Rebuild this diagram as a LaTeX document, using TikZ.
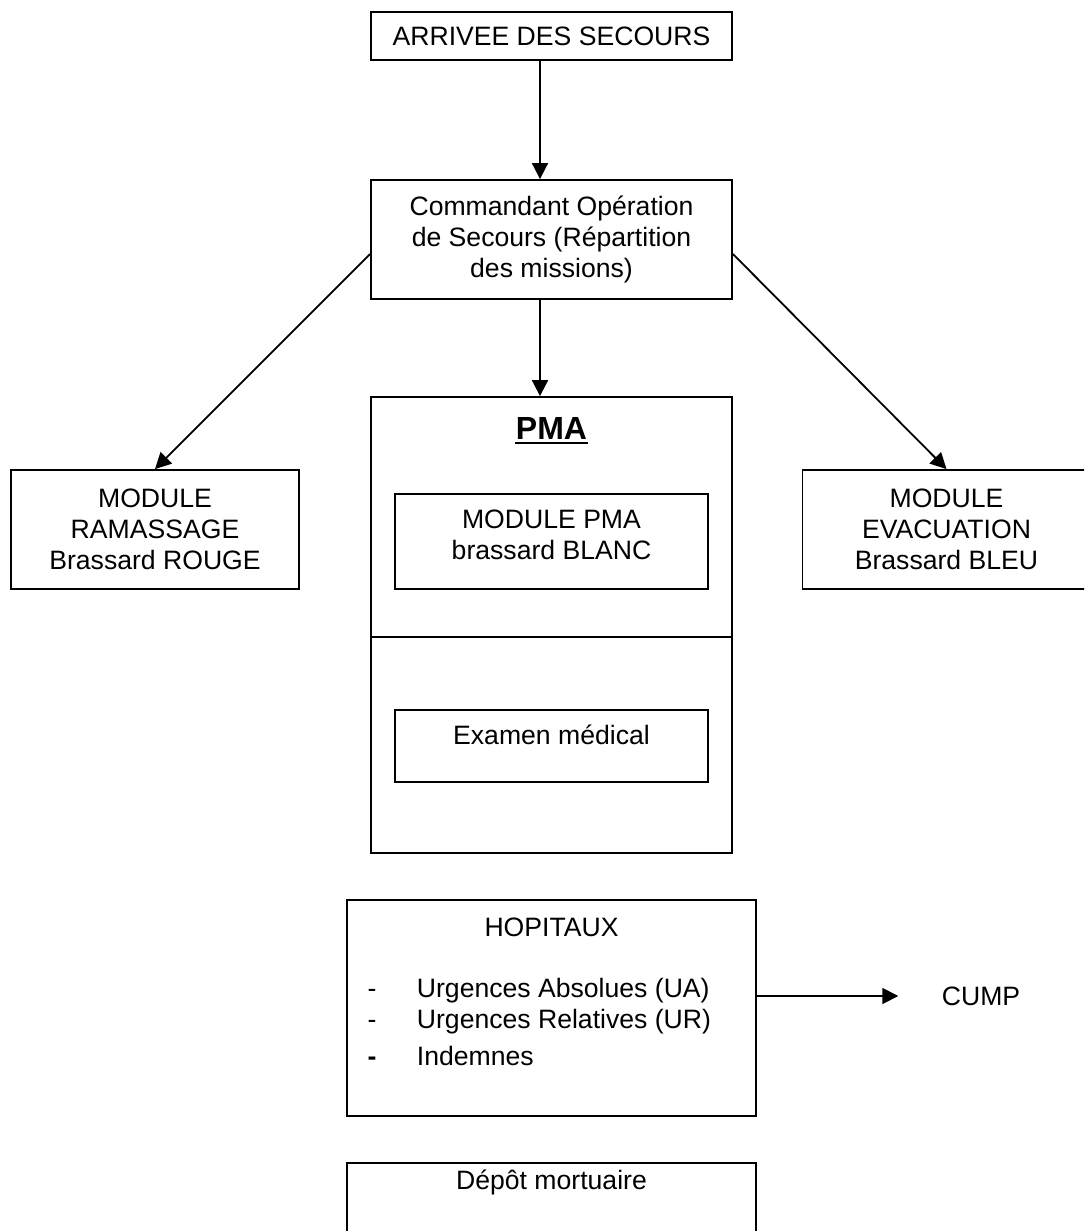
\documentclass[tikz,border=0pt]{standalone}
\usepackage{fontspec}
\setmainfont{Liberation Sans}
\usetikzlibrary{arrows.meta}

\begin{document}
\begin{tikzpicture}[x=0.5pt,y=-0.5pt,line width=0.9pt,
  every node/.style={font=\fontsize{13.3}{15.5}\selectfont},
  box/.style={draw, rectangle, inner sep=0pt, align=center},
  arr/.style={-{Triangle[length=8pt,width=8pt]}}]
\clip (0,0) rectangle (1084,1231);

% boites
\node[box, minimum width=180.5pt, minimum height=24pt] (arrivee) at (551.5,36) {ARRIVEE DES SECOURS};
\node[box, minimum width=180.5pt, minimum height=59.5pt] (cos) at (551.5,239.5) {Commandant Opération\\de Secours (Répartition\\des missions)};
\node[box, minimum width=144pt, minimum height=59.5pt] (ramassage) at (155,529.5) {MODULE\\RAMASSAGE\\Brassard ROUGE};
\node[box, minimum width=144pt, minimum height=59.5pt] (evacuation) at (946.5,529.5) {MODULE\\EVACUATION\\Brassard BLEU};
\node[box, minimum width=180.5pt, minimum height=228pt] (pma) at (551.5,625) {};
\node[box, minimum width=156.5pt, minimum height=47.5pt] (blanc) at (551.5,541.5) {};
\node[box, minimum width=156.5pt, minimum height=36pt] (examen) at (551.5,746) {};
\node[box, minimum width=204.5pt, minimum height=108pt] (hopitaux) at (551.5,1008) {};
\node[box, minimum width=204.5pt, minimum height=108pt] (depot) at (551.5,1271) {};

% PMA
\coordinate (split) at (551.5,637);
\draw (pma.west |- split) -- (pma.east |- split);
\node[inner sep=0pt, font=\bfseries\fontsize{16}{18}\selectfont] (pmatitle) at (551.5,428) {PMA};
\draw[line width=1.1pt] ([yshift=-2pt]pmatitle.base west) -- ([yshift=-2pt]pmatitle.base east);
\node[align=center] (blanctxt) at (551.5,535) {MODULE PMA\\brassard BLANC};
\node (examentxt) at (551.5,735) {Examen médical};

% hopitaux
\node (hoptitle) at (551.5,927) {HOPITAUX};
\node[anchor=west, inner sep=0pt] (ua) at (416,991) {Urgences Absolues (UA)};
\node[anchor=west, inner sep=0pt] (ur) at (416,1022) {Urgences Relatives (UR)};
\node[anchor=west, inner sep=0pt] (indemnes) at (416,1056) {Indemnes};
\coordinate (dashx) at (372,0);
\node[anchor=base, inner sep=0pt] (dash1) at (ua.base -| dashx) {-};
\node[anchor=base, inner sep=0pt] (dash2) at (ur.base -| dashx) {-};
\node[anchor=base, inner sep=0pt] (dash3) at (indemnes.base -| dashx) {\bfseries -};
\node (cump) at (981,996) {CUMP};
\node (depottxt) at (551.5,1182) {Dépôt mortuaire};

% fleches
\coordinate (axis) at (540,0);
\draw[arr] (arrivee.south -| axis) -- (cos.north -| axis);
\draw[arr] (cos.south -| axis) -- (pma.north -| axis);
\draw[arr] ([yshift=-7.25pt]cos.west) -- (ramassage.north);
\draw[arr] ([yshift=-7.25pt]cos.east) -- (evacuation.north);
\draw[arr] (hopitaux.east |- cump) -- ([xshift=-18pt]cump.west);

\end{tikzpicture}
\end{document}
